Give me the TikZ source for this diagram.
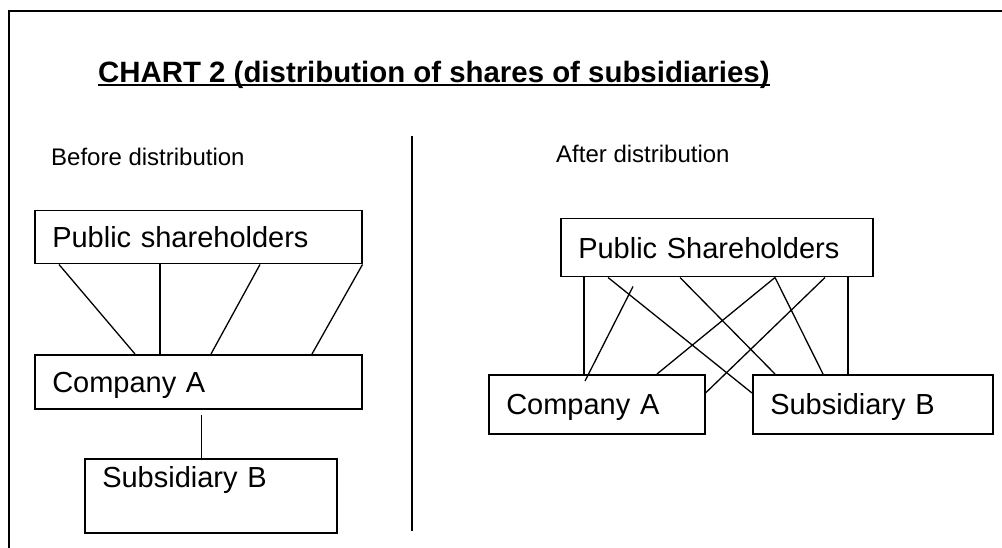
\documentclass[tikz,border=0pt]{standalone}
\usepackage{fontspec}
\setmainfont{Liberation Sans}
\usetikzlibrary{positioning,calc}

\tikzset{
  holder/.style={draw, line width=1.5pt, rectangle, anchor=north west,
    inner xsep=17.5pt, inner ysep=0pt, align=left,
    font=\fontsize{29}{32}\selectfont, text height=20.8pt, text depth=0pt},
  link/.style={line width=1.3pt},
  caption/.style={anchor=base west, inner sep=0pt, font=\fontsize{24}{28}\selectfont},
}

\begin{document}
\begin{tikzpicture}[x=1pt,y=-1pt]
\useasboundingbox (0,0) rectangle (1002,548);
% frame and divider
\draw[line width=2pt] (8.5,548) -- (8.5,11) -- (1002,11);
\draw[line width=2pt] (412,136) -- (412,531);

% title
\node[anchor=base west, inner sep=0pt, font=\fontsize{29.4}{32}\selectfont\bfseries] (title) at (98,83)
  {CHART 2 (distribution of shares of subsidiaries)};
\draw[line width=2pt] ($(title.base west)+(0,2.5)$) -- ($(title.base east)+(0,2.5)$);

\node[caption] (before) at (51,166) {Before distribution};
\node[caption] (after) at (556,163) {After distribution};

% before distribution
\node[holder, minimum width=327pt, minimum height=53pt, text width=292pt] (pubL) at (34,210) {Public shareholders};
\node[holder, minimum width=327pt, minimum height=54pt, text width=292pt] (coL) at (34,354) {Company A};
\node[holder, text width=217pt, text height=29pt, text depth=45pt] (subL) at (84,458) {Subsidiary B};

\draw[link] ($(pubL.south west)+(25,0)$) -- ($(coL.north west)+(101,0)$);
\draw[link] ($(pubL.south west)+(126,0)$) -- ($(coL.north west)+(126,0)$);
\draw[link] ($(pubL.south west)+(226,0)$) -- ($(coL.north west)+(177,0)$);
\draw[link] (pubL.south east) -- ($(coL.north west)+(278,0)$);
\draw[link] ($(coL.south)+(3.5,5)$) -- ($(subL.north)+(-9,2)$);

% after distribution
\node[holder, minimum width=312pt, minimum height=58pt, text width=277pt] (pubR) at (560,218) {Public Shareholders};
\node[holder, minimum width=216pt, minimum height=59pt, text width=181pt] (coR) at (488,374) {Company A};
\node[holder, minimum width=240pt, minimum height=59pt, text width=205pt] (subR) at (752,374) {Subsidiary B};

\draw[link] ($(pubR.south west)+(24,0)$) -- ($(coR.north west)+(96,0)$);
\draw[link] ($(pubR.south west)+(73,9)$) -- ($(coR.north west)+(97,7)$);
\draw[link] ($(pubR.south west)+(48,0)$) -- ($(subR.north west)+(0,19)$);
\draw[link] ($(pubR.south west)+(120,0)$) -- ($(subR.north west)+(23,0)$);
\draw[link] ($(pubR.south west)+(215,0)$) -- ($(coR.north west)+(169,0)$);
\draw[link] ($(pubR.south west)+(215,0)$) -- ($(subR.north west)+(71,0)$);
\draw[link] ($(pubR.south west)+(265,0)$) -- ($(coR.north east)+(0,19)$);
\draw[link] ($(pubR.south west)+(288,0)$) -- ($(subR.north west)+(96,0)$);
\end{tikzpicture}
\end{document}
